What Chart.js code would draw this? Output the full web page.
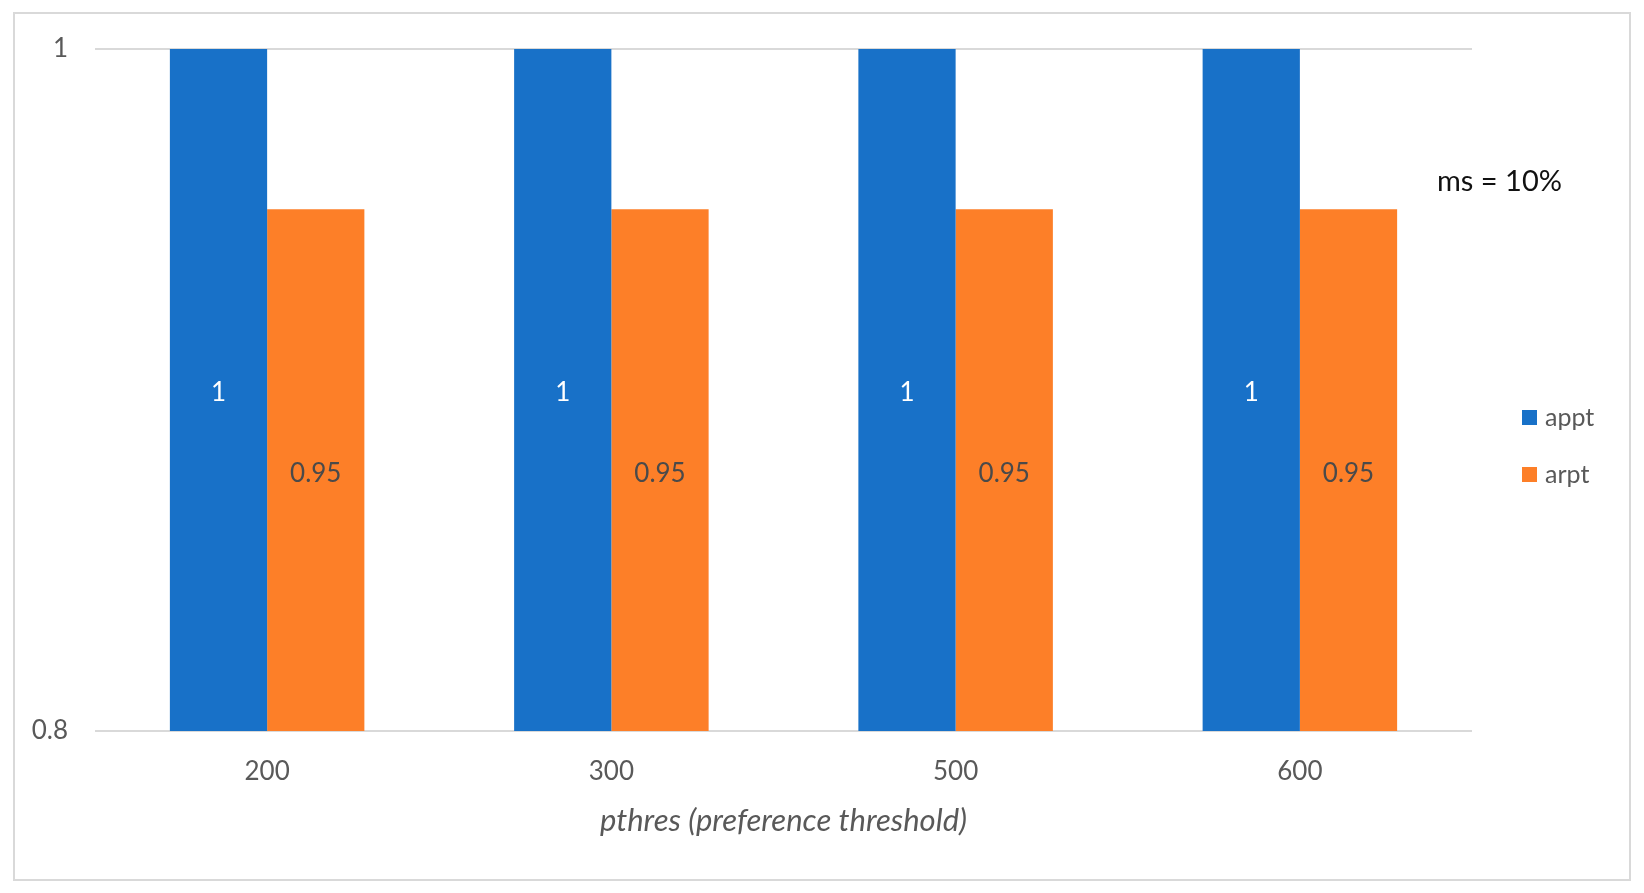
<!DOCTYPE html>
<html>
<head>
<meta charset="utf-8">
<script src="https://cdn.jsdelivr.net/npm/chart.js@4.4.0/dist/chart.umd.min.js"></script>
<style>
  html, body { margin: 0; padding: 0; background: #fff; }
  #wrap { width: 1644px; height: 893px; position: relative; }
</style>
</head>
<body>
<div id="wrap"><canvas id="myChart" width="1644" height="893"></canvas></div>
<script>
const categories = ['200', '300', '500', '600'];
const apptValues = [1, 1, 1, 1];
const arptValues = [0.953, 0.953, 0.953, 0.953];
const yTicks = [0.8, 1];
const seriesNames = ['appt', 'arpt'];
const note = 'ms = 10%';
const xTitle = 'pthres (preference threshold)';

const FONT = 'Lato, "Open Sans", sans-serif';

const fmt = v => String(Number(v.toFixed(2)));

// labels, note, legend and frame
const extras = {
    id: 'extras',
    beforeDraw(chart) {
        const c = chart.ctx;
        c.save();
        c.fillStyle = '#fff';
        c.fillRect(0, 0, chart.width, chart.height);
        c.strokeStyle = '#d9d9d9';
        c.lineWidth = 2;
        c.strokeRect(14, 13, 1616, 867);
        c.restore();
    },
    afterDatasetsDraw(chart) {
        const c = chart.ctx;
        const yScale = chart.scales.y;
        c.save();
        c.font = '26px ' + FONT;
        c.textAlign = 'center';
        c.textBaseline = 'middle';
        chart.data.datasets.forEach((ds, i) => {
            const meta = chart.getDatasetMeta(i);
            meta.data.forEach((bar, j) => {
                const top = yScale.getPixelForValue(ds.data[j]);
                const base = yScale.getPixelForValue(yScale.min);
                c.fillStyle = i === 0 ? '#ffffff' : '#4a4a4a';
                c.fillText(fmt(ds.data[j]), bar.x, (top + base) / 2 + 3);
            });
        });
        // note
        c.font = '29px ' + FONT;
        c.fillStyle = '#111';
        c.textAlign = 'left';
        c.fillText(note, 1437, 182);
        // legend
        c.font = '25px ' + FONT;
        chart.data.datasets.forEach((ds, i) => {
            const y = 418 + i * 57;
            c.fillStyle = ds.backgroundColor;
            c.fillRect(1522, y - 8, 15, 15);
            c.fillStyle = '#595959';
            c.fillText(ds.label, 1545, y);
        });
        c.restore();
    }
};

new Chart(document.getElementById('myChart'), {
    type: 'bar',
    data: {
        labels: categories,
        datasets: [{
            label: seriesNames[0],
            data: apptValues,
            backgroundColor: '#1871c8',
            barPercentage: 1,
            categoryPercentage: 0.565
        }, {
            label: seriesNames[1],
            data: arptValues,
            backgroundColor: '#fd7f28',
            barPercentage: 1,
            categoryPercentage: 0.565
        }]
    },
    options: {
        responsive: false,
        animation: false,
        layout: {
            padding: { top: 49, right: 172, bottom: 0, left: 0 }
        },
        scales: {
            x: {
                grid: { display: false },
                border: { display: false },
                ticks: {
                    color: '#595959',
                    font: { family: FONT, size: 26 },
                    padding: 17
                },
                title: {
                    display: true,
                    text: xTitle,
                    color: '#595959',
                    font: { family: FONT, size: 31, style: 'italic' },
                    padding: { top: 0, bottom: 53 }
                },
                afterFit(axis) { axis.height = 162; }
            },
            y: {
                min: 0.8,
                max: 1,
                afterBuildTicks(axis) { axis.ticks = yTicks.map(v => ({ value: v })); },
                grid: { color: '#d9d9d9', lineWidth: 2, drawTicks: false },
                border: { display: false },
                ticks: {
                    color: '#595959',
                    font: { family: FONT, size: 26 },
                    padding: 27,
                    callback: v => fmt(v)
                },
                afterFit(axis) { axis.width = 95; }
            }
        },
        plugins: {
            legend: { display: false },
            tooltip: { enabled: false }
        }
    },
    plugins: [extras]
});
</script>
</body>
</html>
